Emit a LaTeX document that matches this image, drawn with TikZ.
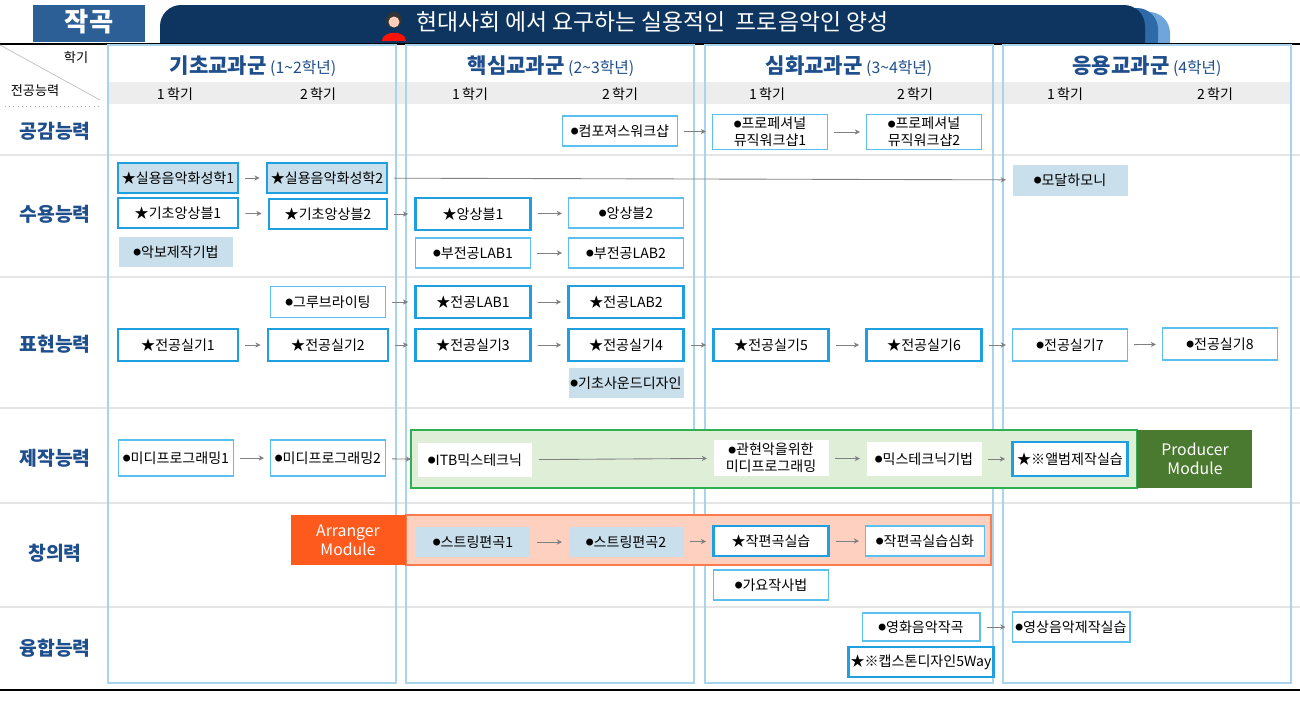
\documentclass[tikz,border=0pt]{standalone}
\usepackage{fontspec}
\setmainfont{Noto Sans CJK KR}
\usetikzlibrary{arrows.meta}
\definecolor{navy}{HTML}{0D3560}
\definecolor{midnavy}{HTML}{2E6AA8}
\definecolor{lightnavy}{HTML}{6FA6DA}
\definecolor{partblue}{HTML}{2B5F96}
\definecolor{rowblue}{HTML}{1F4E8C}
\definecolor{skyline}{HTML}{5BC0F0}
\definecolor{deepsky}{HTML}{1EA0E0}
\definecolor{panelline}{HTML}{A8D4EC}
\definecolor{paleblue}{HTML}{C9DFEC}
\definecolor{palegreen}{HTML}{DFEED6}
\definecolor{green}{HTML}{2EB050}
\definecolor{darkgreen}{HTML}{4A7A30}
\definecolor{orange}{HTML}{FF5A1E}
\definecolor{paleorange}{HTML}{FDD0C0}
\newcommand{\bul}{\raisebox{0.2ex}{\scalebox{0.55}{●}}}

\tikzset{
  course/.style={draw=skyline, line width=0.6pt, fill=white, minimum width=2.3cm,
    minimum height=0.6cm, inner sep=1pt, align=center, font=\fontsize{8}{9.5}\selectfont},
  core/.style={course, draw=deepsky, line width=1.6pt},
  core shade/.style={core, fill=paleblue},
  plain/.style={course, draw=none},
  shade/.style={course, draw=none, fill=paleblue},
  link/.style={-{Stealth[length=3pt,width=3pt]}, gray, line width=0.5pt,
    shorten <=0.12cm, shorten >=0.12cm},
  panel/.style={draw=panelline, line width=0.6pt},
  rowname/.style={font=\bfseries\fontsize{11}{13}\selectfont, text=rowblue},
  term/.style={font=\fontsize{8}{10}\selectfont}
}

\begin{document}
\begin{tikzpicture}[x=0.02cm, y=-0.02cm]
  \useasboundingbox (0,0) rectangle (1300,700);

  % title bar
  \fill[lightnavy] [rounded corners=12pt] (168,44) -- (168,12) -- (1170,12) [sharp corners] -- (1170,44) -- cycle;
  \fill[midnavy] [rounded corners=12pt] (163,44) -- (163,8) -- (1158,8) [sharp corners] -- (1158,44) -- cycle;
  \fill[navy] [rounded corners=12pt] (160,44) -- (160,5) -- (1145,5) [sharp corners] -- (1145,44) -- cycle;
  \fill[partblue] (33,5) rectangle (145,42);
  \node[text=white, font=\bfseries\fontsize{15}{17}\selectfont] (part) at (89,22) {작곡};
  % singer icon
  \fill[red!80!orange] (382,41) .. controls (382,30) and (406,30) .. (406,41) -- cycle;
  \fill[black!80] (394,20) circle (8);
  \fill[orange!30!white] (394,22) circle (5.5);
  \node[text=white, anchor=west, font=\fontsize{13}{15}\selectfont] (title) at (410,22) {현대사회 에서 요구하는 실용적인 \ 프로음악인 양성};
  \draw[black, line width=1pt] (0,44) -- (1300,44);
  \draw[black, line width=1pt] (0,690) -- (1300,690);

  % rows
  \foreach \y in {155,277,408,503,607}
    \draw[black!10, line width=1.2pt] (0,\y) -- (1300,\y);
  \fill[black!7] (108,82) rectangle (1290,104);
  \draw[black!25] (0,45) -- (100,100);
  \draw[black!30, dotted] (5,106) -- (100,106);
  \node[font=\fontsize{7.5}{9}\selectfont] (hak) at (76,58) {학기};
  \node[font=\fontsize{7.5}{9}\selectfont] (jeon) at (35,91) {전공능력};

  \foreach \x in {108,406,705,1003}
    \draw[panel] (\x,45) rectangle ++(288,638);

  % group titles
  \node[text=rowblue, font=\fontsize{9}{11}\selectfont] (g1) at (253,66) {\textbf{\fontsize{12}{14}\selectfont 기초교과군} (1\textasciitilde2학년)};
  \node[text=rowblue, font=\fontsize{9}{11}\selectfont] (g2) at (551,66) {\textbf{\fontsize{12}{14}\selectfont 핵심교과군} (2\textasciitilde3학년)};
  \node[text=rowblue, font=\fontsize{9}{11}\selectfont] (g3) at (849,66) {\textbf{\fontsize{12}{14}\selectfont 심화교과군} (3\textasciitilde4학년)};
  \node[text=rowblue, font=\fontsize{9}{11}\selectfont] (g4) at (1147,66) {\textbf{\fontsize{12}{14}\selectfont 응용교과군} (4학년)};
  \foreach \x/\t in {175/1,318/2,470/1,620/2,767/1,915/2,1065/1,1215/2}
    \node[term] at (\x,94) {\t\,학기};

  \node[rowname] (r1) at (55,131) {공감능력};
  \node[rowname] (r2) at (55,214) {수용능력};
  \node[rowname] (r3) at (55,344) {표현능력};
  \node[rowname] (r4) at (55,458) {제작능력};
  \node[rowname] (r5) at (55,553) {창의력};
  \node[rowname] (r6) at (55,648) {융합능력};

  % modules
  \draw[green, fill=palegreen, line width=1pt] (411,430) rectangle (1137,488);
  \fill[darkgreen] (1137,430) rectangle (1252,488);
  \node[text=white, align=center, font=\fontsize{9}{11}\selectfont] (prod) at (1195,459) {Producer\\Module};
  \draw[orange!80!white, fill=paleorange, line width=1pt] (406,515) rectangle (991,565);
  \fill[orange] (291,515) rectangle (406,565);
  \node[text=white, align=center, font=\fontsize{9}{11}\selectfont] (arr) at (348,540) {Arranger\\Module};

  % 공감능력
  \node[course] (cw) at (620,131) {\bul{}컴포져스워크샵};
  \node[course, minimum height=0.7cm] (pw1) at (770,132) {\bul{}프로페셔널\\뮤직워크샵1};
  \node[course, minimum height=0.7cm] (pw2) at (924,132) {\bul{}프로페셔널\\뮤직워크샵2};
  \draw[link] (cw) -- (pw1);
  \draw[link] (pw1) -- (pw2);

  % 수용능력
  \node[core shade, minimum width=2.4cm] (hw1) at (178,178) {★실용음악화성학1};
  \node[core shade, minimum width=2.4cm] (hw2) at (327,178) {★실용음악화성학2};
  \node[shade, minimum height=0.62cm] (modal) at (1070,180) {\bul{}모달하모니};
  \node[core, minimum width=2.4cm] (ke1) at (178,213) {★기초앙상블1};
  \node[core, minimum width=2.36cm] (ke2) at (328,214) {★기초앙상블2};
  \node[core, minimum height=0.64cm] (en1) at (473,214) {★앙상블1};
  \node[course] (en2) at (626,213) {\bul{}앙상블2};
  \node[shade] (akbo) at (176,252) {\bul{}악보제작기법};
  \node[course] (lab1) at (473,253) {\bul{}부전공LAB1};
  \node[course] (lab2) at (626,253) {\bul{}부전공LAB2};
  \draw[link] (hw1) -- (hw2);
  \draw[link] (hw2) -- (modal);
  \draw[link] (ke1) -- (ke2);
  \draw[link] (ke2) -- (en1);
  \draw[link] (en1) -- (en2);
  \draw[link] (lab1) -- (lab2);

  % 표현능력
  \node[course, minimum height=0.62cm] (groove) at (328,302) {\bul{}그루브라이팅};
  \node[core, minimum height=0.64cm] (jl1) at (473,302) {★전공LAB1};
  \node[core, minimum height=0.64cm] (jl2) at (626,302) {★전공LAB2};
  \node[core, minimum width=2.4cm, minimum height=0.64cm] (sk1) at (178,345) {★전공실기1};
  \node[core, minimum width=2.4cm, minimum height=0.64cm] (sk2) at (328,345) {★전공실기2};
  \node[core, minimum height=0.64cm] (sk3) at (473,345) {★전공실기3};
  \node[core, minimum height=0.64cm] (sk4) at (626,345) {★전공실기4};
  \node[core, minimum height=0.64cm] (sk5) at (771,345) {★전공실기5};
  \node[core, minimum height=0.64cm] (sk6) at (924,345) {★전공실기6};
  \node[course, minimum height=0.64cm] (sk7) at (1070,345) {\bul{}전공실기7};
  \node[course, minimum height=0.64cm] (sk8) at (1220,344) {\bul{}전공실기8};
  \node[shade] (sound) at (626,383) {\bul{}기초사운드디자인};
  \draw[link] (groove) -- (jl1);
  \draw[link] (jl1) -- (jl2);
  \foreach \a/\b in {sk1/sk2,sk2/sk3,sk3/sk4,sk4/sk5,sk5/sk6,sk6/sk7,sk7/sk8}
    \draw[link] (\a) -- (\b);

  % 제작능력
  \node[course, minimum height=0.72cm] (midi1) at (176,458) {\bul{}미디프로그래밍1};
  \node[course, minimum height=0.72cm] (midi2) at (328,458) {\bul{}미디프로그래밍2};
  \node[plain, minimum height=0.68cm] (itb) at (475,460) {\bul{}ITB믹스테크닉};
  \node[plain, minimum height=0.72cm] (orch) at (771,458) {\bul{}관현악을위한\\미디프로그래밍};
  \node[plain, minimum height=0.68cm] (mix) at (924,459) {\bul{}믹스테크닉기법};
  \node[core, minimum height=0.68cm] (album) at (1070,459) {★※앨범제작실습};
  \draw[link] (midi1) -- (midi2);
  \draw[link] (midi2) -- (itb);
  \draw[link] (itb) -- (orch);
  \draw[link] (orch) -- (mix);
  \draw[link] (mix) -- (album);

  % 창의력
  \node[shade] (str1) at (473,542) {\bul{}스트링편곡1};
  \node[shade] (str2) at (626,542) {\bul{}스트링편곡2};
  \node[core] (jp) at (771,541) {★작편곡실습};
  \node[course, minimum width=2.38cm] (jpd) at (925,541) {\bul{}작편곡실습심화};
  \node[course] (gayo) at (771,585) {\bul{}가요작사법};
  \draw[link] (str1) -- (str2);
  \draw[link] (str2) -- (jp);
  \draw[link] (jp) -- (jpd);

  % 융합능력
  \node[course, minimum width=2.36cm, minimum height=0.56cm] (film) at (921,627) {\bul{}영화음악작곡};
  \node[core, minimum width=2.5cm] (cap) at (921,662) {★※캡스톤디자인5Way};
  \node[course, minimum width=2.36cm] (video) at (1071,627) {\bul{}영상음악제작실습};
  \draw[link] (film) -- (video);
\end{tikzpicture}
\end{document}
